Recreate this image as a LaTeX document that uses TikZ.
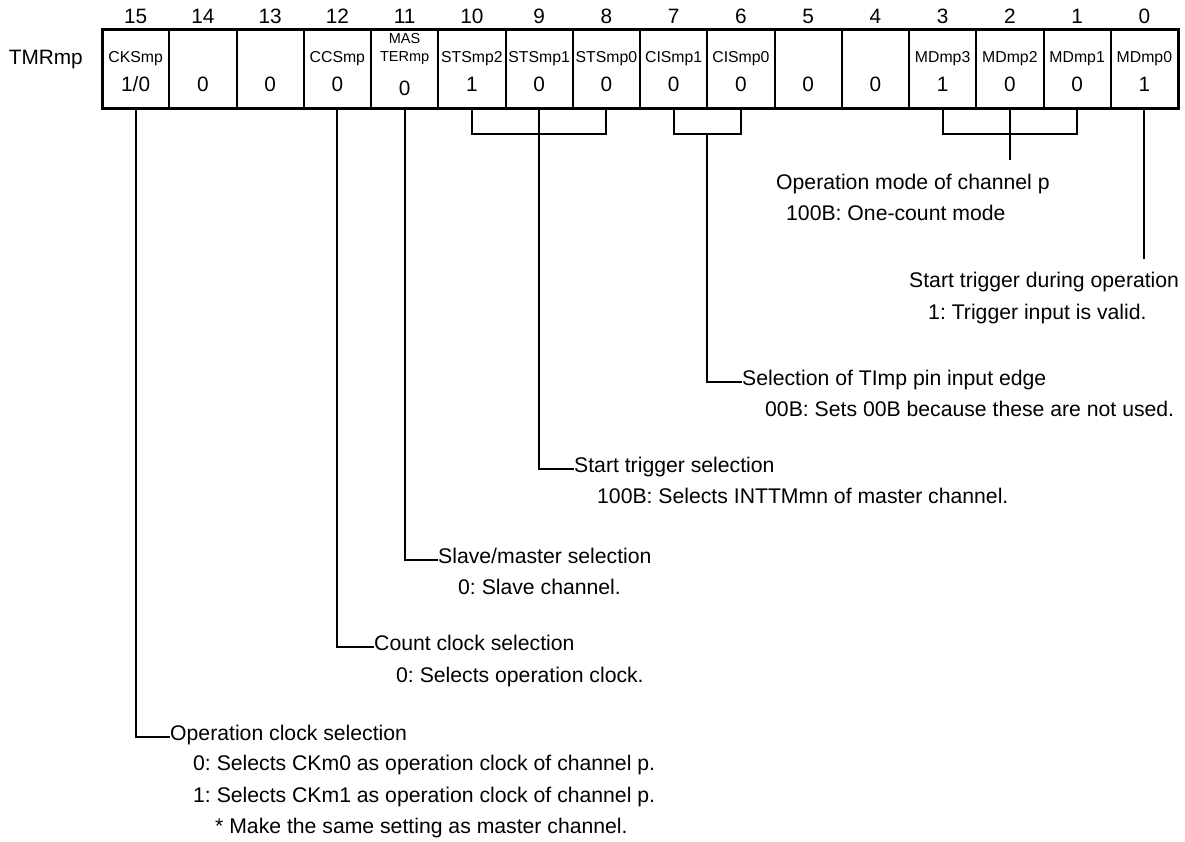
\documentclass[tikz,border=0pt]{standalone}
\usepackage{fontspec}
\setmainfont{Liberation Sans}
\usetikzlibrary{positioning,calc}
\frenchspacing
\tikzset{
  cell/.style={draw, line width=2pt, minimum width=67.25pt, minimum height=79pt, inner sep=0pt, outer sep=0pt, anchor=north west},
  bitno/.style={font=\fontsize{20.8}{24}\selectfont, inner sep=0pt},
  fname/.style={font=\fontsize{15.8}{18}\selectfont, inner sep=0pt},
  desc/.style={font=\fontsize{21.2}{24}\selectfont, inner sep=0pt, anchor=base west},
  link/.style={line width=2pt},
}
\begin{document}
\begin{tikzpicture}[x=1pt,y=-1pt]
  \useasboundingbox (0,0) rectangle (1185,841);
  % register cells
  \foreach \b/\nm/\val in {15/CKSmp/{1/0},14//0,13//0,12/CCSmp/0,11//,10/STSmp2/1,9/STSmp1/0,8/STSmp0/0,7/CISmp1/0,6/CISmp0/0,5//0,4//0,3/MDmp3/1,2/MDmp2/0,1/MDmp1/0,0/MDmp0/1}{
    \node[cell] (c\b) at ({102+(15-\b)*67.25},29) {};
    \node[bitno] (n\b) at ($(c\b.north)+(0,-13)$) {\b};
    \node[fname] (f\b) at ($(c\b.center)+(0,-9.5)$) {\nm};
    \node[bitno] (v\b) at ($(c\b.center)+(0,15.5)$) {\val};
  }
  \node[font=\fontsize{14.5}{16}\selectfont, inner sep=0pt] (f11a) at ($(c11.center)+(0,-30)$) {MAS};
  \node[font=\fontsize{14.5}{16}\selectfont, inner sep=0pt] (f11b) at ($(c11.center)+(0,-10)$) {TERmp};
  \node[bitno] (v11) at ($(c11.center)+(0,19.5)$) {0};
  \draw[line width=3pt] (c15.north west) rectangle (c0.south east);
  \node[bitno, anchor=east] (reg) at ($(c15.west |- f15)+(-19,0)$) {TMRmp};

  % descriptions
  \node[desc] (opmode) at (776,189) {Operation mode of channel p};
  \node[desc] (opmode1) at (786,220) {100B: One-count mode};
  \node[desc] (trg) at (909,287) {Start trigger during operation};
  \node[desc] (trg1) at (928,319) {1: Trigger input is valid.};
  \node[desc] (edge) at (742,385) {Selection of TImp pin input edge};
  \node[desc] (edge1) at (765,416) {00B: Sets 00B because these are not used.};
  \node[desc] (sts) at (574,472) {Start trigger selection};
  \node[desc] (sts1) at (597,503) {100B: Selects INTTMmn of master channel.};
  \node[desc] (mst) at (438,563) {Slave/master selection};
  \node[desc] (mst1) at (458,594) {0: Slave channel.};
  \node[desc] (ccs) at (374,650) {Count clock selection};
  \node[desc] (ccs1) at (396,682) {0: Selects operation clock.};
  \node[desc] (cks) at (170,740) {Operation clock selection};
  \node[desc] (cks1) at (193,770) {0: Selects CKm0 as operation clock of channel p.};
  \node[desc] (cks2) at (193,802) {1: Selects CKm1 as operation clock of channel p.};
  \node[desc] (cks3) at (215,833) {* Make the same setting as master channel.};

  % connectors
  \draw[link] (c15.south) |- ([yshift=3pt]cks.base west);
  \draw[link] (c12.south) |- ([yshift=3pt]ccs.base west);
  \draw[link] (c11.south) |- ([yshift=3pt]mst.base west);
  \draw[link] (c10.south) -- ++(0,26) -| (c8.south);
  \draw[link] (c9.south) |- ([yshift=3pt]sts.base west);
  \draw[link] (c7.south) -- ++(0,26) -| (c6.south);
  \draw[link] ($(c7.south)!0.5!(c6.south)+(0,26)$) |- ([yshift=3pt]edge.base west);
  \draw[link] (c3.south) -- ++(0,26) -| (c1.south);
  \coordinate (mdend) at ($(c2.south)+(0,52)$);
  \draw[link] (c2.south) -- (mdend);
  \coordinate (trgend) at ($(c0.south)+(0,151)$);
  \draw[link] (c0.south) -- (trgend);
\end{tikzpicture}
\end{document}
